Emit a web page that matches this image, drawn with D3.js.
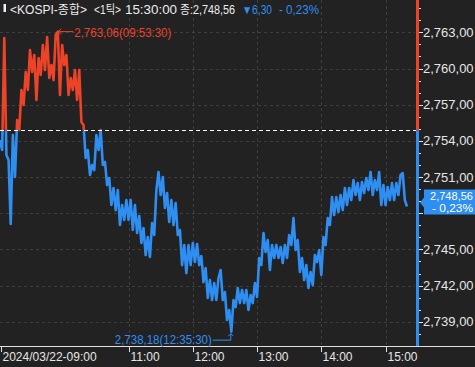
<!DOCTYPE html>
<html>
<head>
<meta charset="utf-8">
<script src="https://cdn.jsdelivr.net/npm/d3@7"></script>
<style>
  body { margin: 0; background: #222222; }
  svg { display: block; }
</style>
</head>
<body>
<div id="chart"></div>
<script>
// ---- data ----
const prevClose = 2754.86;
const closePrice = 2748.56;
const changeAbs = 6.30;
const changePct = -0.23;
const sessionStart = '09:00:00';
const sessionEnd = '15:30:00';
const stepMin = 2; // one value every 2 minutes, 09:00 .. 15:20

const prices = [
  2754.07, 2753.24, 2762.53, 2752.83, 2752.41, 2747.10, 2754.48, 2751.00, 2755.73, 2754.90,
  2758.22, 2756.97, 2759.71, 2758.22, 2761.53, 2759.71, 2761.12, 2757.39, 2760.87, 2759.46,
  2761.95, 2759.87, 2762.61, 2759.21, 2760.29, 2759.04, 2762.78, 2763.06, 2757.80, 2761.95,
  2760.29, 2761.12, 2757.80, 2759.21, 2758.22, 2759.87, 2757.39, 2759.87, 2755.56, 2755.31,
  2752.58, 2753.24, 2751.17, 2752.00, 2751.58, 2754.48, 2753.24, 2754.90, 2752.00, 2752.25,
  2750.34, 2750.92, 2748.68, 2750.09, 2748.26, 2749.92, 2747.02, 2748.68, 2747.44, 2749.09,
  2747.44, 2749.09, 2746.61, 2748.68, 2746.36, 2747.77, 2745.53, 2746.77, 2744.53, 2746.03,
  2744.37, 2747.19, 2746.19, 2749.92, 2751.42, 2749.51, 2751.00, 2748.43, 2749.67, 2747.27,
  2749.09, 2747.02, 2748.85, 2746.19, 2746.61, 2743.70, 2745.36, 2743.04, 2745.36, 2743.70,
  2745.53, 2743.95, 2745.45, 2743.70, 2744.45, 2742.29, 2743.45, 2740.97, 2742.46, 2740.80,
  2742.21, 2740.80, 2742.63, 2743.29, 2740.80, 2741.46, 2739.14, 2739.97, 2738.18, 2740.80,
  2740.22, 2741.80, 2740.55, 2741.63, 2740.55, 2741.63, 2739.97, 2741.22, 2740.55, 2742.21,
  2741.05, 2744.29, 2743.70, 2746.36, 2744.78, 2745.78, 2743.29, 2745.36, 2744.29, 2745.36,
  2744.29, 2745.20, 2743.87, 2745.36, 2744.29, 2746.19, 2745.36, 2747.60, 2744.95, 2745.78,
  2743.13, 2744.29, 2742.46, 2743.70, 2741.80, 2743.13, 2742.04, 2744.53, 2743.95, 2744.95,
  2742.88, 2746.03, 2745.36, 2747.60, 2747.02, 2749.34, 2747.85, 2749.34, 2748.10, 2749.51,
  2748.26, 2750.09, 2748.68, 2750.09, 2749.09, 2750.75, 2749.51, 2750.50, 2749.09, 2750.59,
  2749.67, 2750.92, 2749.92, 2751.42, 2749.51, 2750.75, 2749.92, 2751.42, 2748.68, 2750.34,
  2748.68, 2750.17, 2749.09, 2750.50, 2749.09, 2750.50, 2749.51, 2751.17, 2751.33, 2749.09,
  2748.56
];

const yTicks = [2739, 2742, 2745, 2748, 2751, 2754, 2757, 2760, 2763];
const xTickTimes = ['09:00:00', '11:00:00', '12:00:00', '13:00:00', '14:00:00', '15:00:00'];
const xTickLabels = ['2024/03/22-09:00', '11:00', '12:00', '13:00', '14:00', '15:00'];
const highMark = { time: '09:53:30', price: 2763.06 };
const lowMark = { time: '12:35:30', price: 2738.18 };

// ---- setup ----
const W = 475, H = 367;
const plotRight = 417.7, plotBottom = 346;
const red = '#ec4329', blue = '#2f8ef2';
const font = '"Liberation Sans", "Noto Sans CJK KR", sans-serif';
const krFont = '"Noto Sans CJK KR", "Liberation Sans", sans-serif';

const parse = d3.timeParse('%H:%M:%S');
const t0 = parse(sessionStart), t1 = parse(sessionEnd);
const x = d3.scaleTime().domain([t0, t1]).range([0, plotRight]);
const y = d3.scaleLinear().domain([2736.99, 2765.68]).range([plotBottom, 0]);
const fmt = v => d3.format(',.2f')(v).replace('.', ',');
const pctText = '- ' + d3.format('.2f')(Math.abs(changePct)).replace('.', ',') + '%';

const series = prices.map((p, i) => ({ t: d3.timeMinute.offset(t0, i * stepMin), p }));
const yBase = y(prevClose);

const svg = d3.select('#chart').append('svg')
  .attr('width', W).attr('height', H);
svg.append('rect').attr('width', W).attr('height', H).attr('fill', '#222222');

/* ---------- grid ---------- */
svg.append('g').selectAll('line').data(yTicks).enter().append('line')
  .attr('x1', 0).attr('x2', 415)
  .attr('y1', d => Math.round(y(d)) + 0.5).attr('y2', d => Math.round(y(d)) + 0.5)
  .attr('stroke', '#3e3e3e').attr('stroke-dasharray', '3,3');

svg.append('g').selectAll('line').data(xTickTimes.slice(1)).enter().append('line')
  .attr('x1', d => Math.round(x(parse(d))) + 0.5).attr('x2', d => Math.round(x(parse(d))) + 0.5)
  .attr('y1', 0).attr('y2', plotBottom)
  .attr('stroke', '#3e3e3e').attr('stroke-dasharray', '3,3');

/* ---------- price line, red above / blue below previous close ---------- */
const defs = svg.append('defs');
defs.append('clipPath').attr('id', 'clipUp').append('rect')
  .attr('x', 0).attr('y', 0).attr('width', plotRight).attr('height', yBase);
defs.append('clipPath').attr('id', 'clipDown').append('rect')
  .attr('x', 0).attr('y', yBase).attr('width', plotRight).attr('height', plotBottom - yBase);

const line = d3.line().x(d => x(d.t)).y(d => y(d.p));
svg.append('path').datum(series)
  .attr('clip-path', 'url(#clipUp)')
  .attr('d', line).attr('fill', 'none').attr('stroke', red)
  .attr('stroke-width', 2.6).attr('stroke-linejoin', 'round');
svg.append('path').datum(series)
  .attr('clip-path', 'url(#clipDown)')
  .attr('d', line).attr('fill', 'none').attr('stroke', blue)
  .attr('stroke-width', 2.6).attr('stroke-linejoin', 'round');

// previous close dashed line
svg.append('line')
  .attr('x1', 0).attr('x2', 416)
  .attr('y1', Math.round(yBase) + 0.5).attr('y2', Math.round(yBase) + 0.5)
  .attr('stroke', '#ffffff').attr('stroke-dasharray', '4,3');

/* ---------- right axis ---------- */
svg.append('rect').attr('x', 416).attr('y', 0).attr('width', 3).attr('height', yBase).attr('fill', red);
svg.append('rect').attr('x', 416).attr('y', yBase).attr('width', 3).attr('height', plotBottom - yBase).attr('fill', blue);

const minor = d3.range(2737, 2766);
svg.append('g').selectAll('line').data(minor).enter().append('line')
  .attr('x1', 419).attr('x2', d => yTicks.includes(d) ? 423 : 421)
  .attr('y1', d => Math.round(y(d)) + 0.5).attr('y2', d => Math.round(y(d)) + 0.5)
  .attr('stroke', '#e6e6e6');

svg.append('g').selectAll('text').data(yTicks.filter(d => d !== 2748)).enter().append('text')
  .attr('x', 423).attr('y', d => y(d) + 4.5)
  .attr('fill', '#e6e6e6').attr('font-family', font).attr('font-size', 13)
  .text(d => fmt(d));

/* ---------- bottom axis ---------- */
svg.append('line').attr('x1', 0).attr('x2', W).attr('y1', plotBottom + 0.5).attr('y2', plotBottom + 0.5)
  .attr('stroke', '#e0e0e0');
const xt = svg.append('g').selectAll('g').data(xTickTimes).enter().append('g')
  .attr('transform', d => 'translate(' + (Math.max(1, Math.round(x(parse(d)))) + 0.5) + ',0)');
xt.append('line').attr('y1', plotBottom).attr('y2', plotBottom + 6).attr('stroke', '#e0e0e0');
xt.append('text').attr('x', 1).attr('y', 361)
  .attr('fill', '#e6e6e6').attr('font-family', font).attr('font-size', 12)
  .text((d, i) => xTickLabels[i]);

/* ---------- high / low markers ---------- */
const hx = x(parse(highMark.time)), hy = y(highMark.price);
svg.append('path').attr('d', `M${hx + 1},${hy} L${hx + 16},${hy}`).attr('stroke', red).attr('fill', 'none');
svg.append('path').attr('d', `M${hx + 4},${hy - 3} L${hx + 1},${hy} L${hx + 4},${hy + 3}`).attr('stroke', red).attr('fill', 'none');
svg.append('text').attr('x', hx + 17).attr('y', hy + 5)
  .attr('fill', red).attr('font-family', font).attr('font-size', 12.5)
  .attr('textLength', 97).attr('lengthAdjust', 'spacingAndGlyphs')
  .text(fmt(highMark.price) + '(' + highMark.time + ')');

const lx = x(parse(lowMark.time)), ly = y(lowMark.price);
svg.append('path').attr('d', `M${lx - 18},${ly + 8.5} L${lx},${ly + 8.5} L${lx},${ly + 2}`).attr('stroke', blue).attr('fill', 'none');
svg.append('path').attr('d', `M${lx - 2.5},${ly + 4.5} L${lx},${ly + 2} L${lx + 2.5},${ly + 4.5}`).attr('stroke', blue).attr('fill', 'none');
svg.append('text').attr('x', lx - 116).attr('y', ly + 12.5)
  .attr('fill', blue).attr('font-family', font).attr('font-size', 12.5)
  .attr('textLength', 97).attr('lengthAdjust', 'spacingAndGlyphs')
  .text(fmt(lowMark.price) + '(' + lowMark.time + ')');

/* ---------- last price box ---------- */
const cy = y(closePrice) - 4;
svg.append('path')
  .attr('d', `M420,${cy} L424,${cy - 5} L424,${cy - 13} L475,${cy - 13} L475,${cy + 12} L424,${cy + 12} L424,${cy + 5} Z`)
  .attr('fill', blue);
svg.append('text').attr('x', 473).attr('y', cy - 2).attr('text-anchor', 'end')
  .attr('fill', '#ffffff').attr('font-family', font).attr('font-size', 11.5)
  .attr('textLength', 43).attr('lengthAdjust', 'spacingAndGlyphs')
  .text(fmt(closePrice));
svg.append('text').attr('x', 473).attr('y', cy + 9.5).attr('text-anchor', 'end')
  .attr('fill', '#ffffff').attr('font-family', font).attr('font-size', 11.5)
  .attr('textLength', 41).attr('lengthAdjust', 'spacingAndGlyphs')
  .text(pctText);

/* ---------- title ---------- */
svg.append('rect').attr('x', 3.5).attr('y', 4).attr('width', 2.5).attr('height', 8).attr('fill', '#f0f0f0');
const titleParts = [
  { text: '<KOSPI-종합>', x: 10, w: 77, c: '#ececec' },
  { text: '<1틱>', x: 94, w: 27, c: '#ececec' },
  { text: sessionEnd, x: 125, w: 52, c: '#ececec' },
  { text: '종:' + fmt(closePrice), x: 180, w: 55, c: '#ececec' },
  { text: '▼' + fmt(changeAbs), x: 242, w: 30, c: blue },
  { text: pctText, x: 279, w: 40, c: blue }
];
svg.append('g').selectAll('text').data(titleParts).enter().append('text')
  .attr('x', d => d.x).attr('y', 14)
  .attr('fill', d => d.c).attr('font-family', font).attr('font-size', 12)
  .attr('textLength', d => d.w).attr('lengthAdjust', 'spacingAndGlyphs')
  .text(d => d.text);
</script>
</body>
</html>
